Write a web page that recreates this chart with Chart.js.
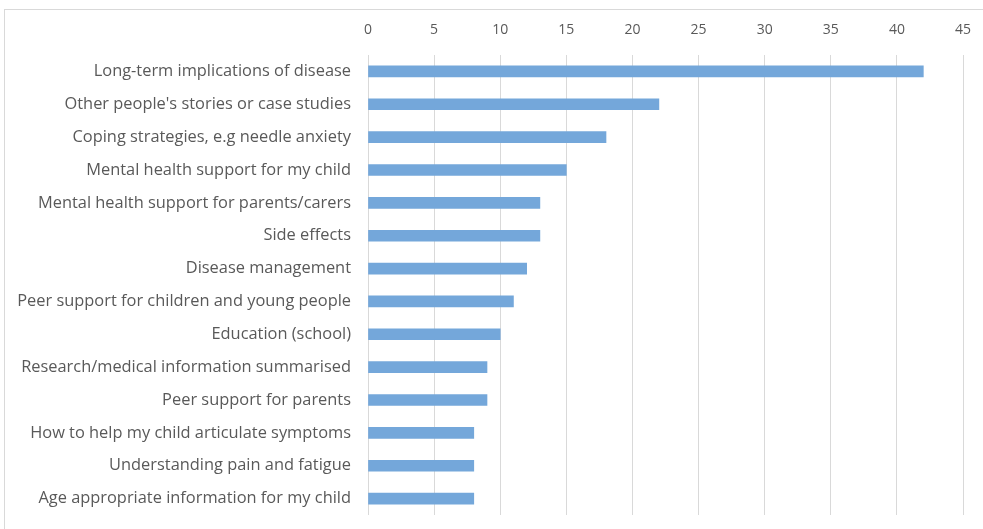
<!DOCTYPE html>
<html>
<head>
<meta charset="utf-8">
<script src="https://cdn.jsdelivr.net/npm/chart.js@4.4.0/dist/chart.umd.min.js"></script>
<style>
  html, body { margin: 0; padding: 0; background: #fff; overflow: hidden; }
  #frame { position: absolute; left: 4px; top: 9px; width: 1000px; height: 540px; border: 1px solid #d9d9d9; }
  #wrap { position: absolute; left: 0; top: 0; width: 983px; height: 529px; }
</style>
</head>
<body>
<div id="frame"></div>
<div id="wrap"><canvas id="chart"></canvas></div>
<script>
// topics, top to bottom as in the picture
const topics = [
    'Long-term implications of disease',
    "Other people's stories or case studies",
    'Coping strategies, e.g needle anxiety',
    'Mental health support for my child',
    'Mental health support for parents/carers',
    'Side effects',
    'Disease management',
    'Peer support for children and young people',
    'Education (school)',
    'Research/medical information summarised',
    'Peer support for parents',
    'How to help my child articulate symptoms',
    'Understanding pain and fatigue',
    'Age appropriate information for my child'
];
const counts = [42, 22, 18, 15, 13, 13, 12, 11, 10, 9, 9, 8, 8, 8];
const x_min = 0;
const x_max = 45;
const x_step = 5;

const label_font = { family: "'Open Sans', sans-serif", size: 16.4 };

var ctx = document.getElementById('chart').getContext('2d');

var myBarChart = new Chart(ctx, {
    type: 'bar',
    data: {
        labels: topics,
        datasets: [{
            data: counts,
            backgroundColor: '#74a7da',
            borderWidth: 0,
            barThickness: 11
        }]
    },
    options: {
        indexAxis: 'y',
        responsive: true,
        maintainAspectRatio: false,
        animation: false,
        layout: { padding: { left: 0, right: 20, top: 0, bottom: 14 } },
        plugins: {
            legend: { display: false },
            tooltip: { enabled: false }
        },
        scales: {
            x: {
                position: 'top',
                min: x_min,
                max: x_max,
                ticks: {
                    stepSize: x_step,
                    color: '#595959',
                    font: { family: "'Open Sans', sans-serif", size: 14 },
                    padding: 17
                },
                grid: { color: '#d9d9d9', lineWidth: 1, drawTicks: false },
                border: { display: false },
                afterFit: function(scale) {
                    scale.height = 55;
                    scale.paddingLeft = 0;
                    scale.paddingRight = 0;
                }
            },
            y: {
                ticks: {
                    color: '#595959',
                    font: label_font,
                    padding: 17,
                    autoSkip: false
                },
                grid: { display: false, drawTicks: false },
                border: { display: false },
                afterFit: function(scale) {
                    scale.width = 368;
                    // labels sit inside their bands, no extra room needed
                    scale.paddingTop = 0;
                    scale.paddingBottom = 0;
                }
            }
        }
    }
});
</script>
</body>
</html>
